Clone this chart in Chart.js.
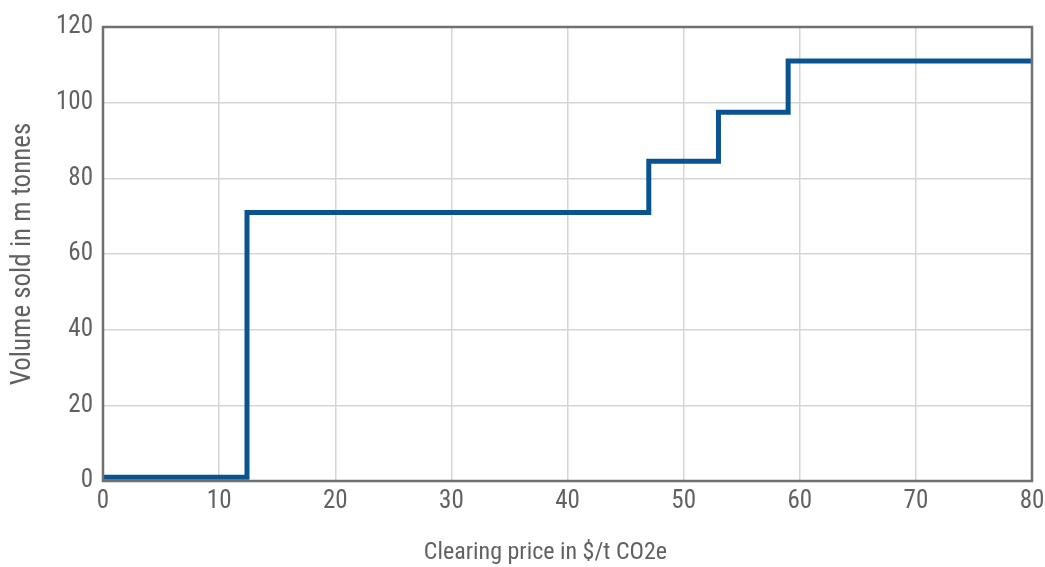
<!DOCTYPE html>
<html>
<head>
<meta charset="utf-8">
<script src="https://cdn.jsdelivr.net/npm/chart.js@4/dist/chart.umd.min.js"></script>
<style>
  html, body { margin: 0; padding: 0; background: #ffffff; }
  #wrap { width: 1045px; height: 567px; }
</style>
</head>
<body>
<div id="wrap"><canvas id="c" width="1045" height="567"></canvas></div>
<script>
// Clearing price ($/t CO2e) at which each supply step begins
const clearingPrice = [0, 12.4, 47, 53, 59, 80];
// Cumulative volume sold (m tonnes) reached at each price
const volumeSold = [1, 71, 84.5, 97.5, 111, 111];

const xAxisTitle = 'Clearing price in $/t CO2e';
const yAxisTitle = 'Volume sold in m tonnes';

const fontFamily = '"Roboto Condensed", "DejaVu Sans Condensed", sans-serif';
const textColor = '#5f6163';
const gridColor = '#d3d6d6';
const frameColor = '#6e7071';

// Frame drawn around the whole plotting area (top and right sides included)
const frame = {
  id: 'frame',
  afterDatasetsDraw(chart) {
    const { ctx, chartArea: a } = chart;
    ctx.save();
    ctx.strokeStyle = frameColor;
    ctx.lineWidth = 2.5;
    ctx.strokeRect(a.left, a.top, a.right - a.left, a.bottom - a.top);
    ctx.restore();
  }
};

new Chart(document.getElementById('c'), {
  type: 'scatter',
  data: {
    datasets: [{
      data: clearingPrice.map((p, i) => ({ x: p, y: volumeSold[i] })),
      showLine: true,
      stepped: 'before',
      borderColor: '#0a5391',
      borderWidth: 5,
      pointRadius: 0,
      fill: false,
      clip: false
    }]
  },
  options: {
    responsive: false,
    animation: false,
    layout: { padding: { top: 27, right: 13, left: 0, bottom: 0 } },
    plugins: { legend: { display: false }, tooltip: { enabled: false } },
    scales: {
      x: {
        type: 'linear',
        min: 0, max: 80,
        ticks: { stepSize: 10, color: textColor, font: { family: fontFamily, size: 25 }, padding: 6 },
        grid: { color: gridColor, lineWidth: 1.5, drawTicks: false },
        border: { display: false },
        // trailing no-break spaces keep the title slightly left of the axis centre
        title: { display: true, text: xAxisTitle + '\u00a0'.repeat(8), color: textColor, font: { family: fontFamily, size: 24 }, padding: { top: 20, bottom: 0 } },
        afterFit(s) { s.height = 86; s.paddingRight = 0; s.paddingLeft = 0; }
      },
      y: {
        type: 'linear',
        min: 0, max: 120,
        ticks: { stepSize: 20, color: textColor, font: { family: fontFamily, size: 25 }, padding: 10 },
        grid: { color: gridColor, lineWidth: 1.5, drawTicks: false },
        border: { display: false },
        title: { display: true, text: yAxisTitle, color: textColor, font: { family: fontFamily, size: 27 }, padding: { top: 7, bottom: 8 } },
        afterFit(s) { s.width = 103; s.paddingTop = 0; s.paddingBottom = 0; }
      }
    }
  },
  plugins: [frame]
});
</script>
</body>
</html>
